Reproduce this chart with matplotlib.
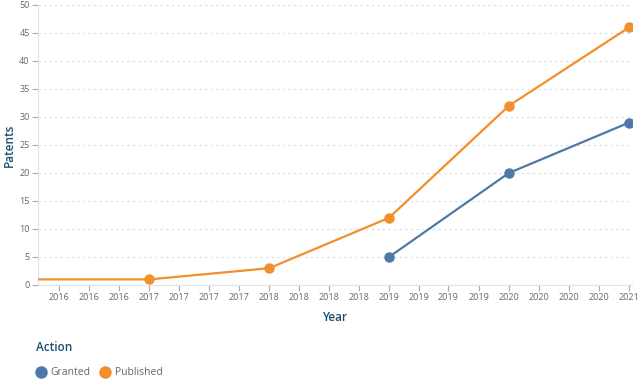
import datetime
import matplotlib
matplotlib.use('Agg')
import matplotlib.pyplot as plt
import matplotlib.dates as mdates
from matplotlib.lines import Line2D

# data
published_years = [2016, 2017, 2018, 2019, 2020, 2021]
published = [1, 1, 3, 12, 32, 46]
granted_years = [2019, 2020, 2021]
granted = [5, 20, 29]

blue = '#4e79a7'
orange = '#f28e2b'
title_col = '#1b4f72'
tick_col = '#666666'

plt.rcParams['font.family'] = ['Open Sans', 'DejaVu Sans']

fig = plt.figure(figsize=(6.4, 3.79), dpi=100)
ax = fig.add_axes([38 / 640, 1 - 285 / 379, (632 - 38) / 640, 280 / 379])

to_date = lambda ys: [datetime.date(y, 1, 1) for y in ys]
ax.plot(to_date(published_years), published, color=orange, lw=1.6,
        marker='o', ms=6.5, zorder=3)
ax.plot(to_date(granted_years), granted, color=blue, lw=1.6,
        marker='o', ms=6.5, zorder=3)

ax.set_xlim(datetime.date(2016, 1, 28), datetime.date(2021, 1, 10))
ax.set_ylim(0, 50)
ax.set_yticks(range(0, 51, 5))
ax.xaxis.set_major_locator(mdates.MonthLocator(bymonth=[1, 4, 7, 10]))
ax.xaxis.set_major_formatter(mdates.DateFormatter('%Y'))

ax.grid(axis='y', color='#d5dde6', linestyle=(0, (2, 3)), lw=0.8)
ax.set_axisbelow(True)
for s in ['top', 'right']:
    ax.spines[s].set_visible(False)
for s in ['left', 'bottom']:
    ax.spines[s].set_color('#dde3ea')
    ax.spines[s].set_linewidth(0.8)
ax.tick_params(axis='both', colors='#aaaaaa', labelcolor=tick_col,
               labelsize=6.5, length=4, width=0.8, pad=2)

ax.set_ylabel('Patents', color=title_col, fontsize=8.5, fontweight='semibold')
ax.yaxis.set_label_coords(-22 / 594, 0.5)
ax.set_xlabel('Year', color=title_col, fontsize=8.5, fontweight='semibold',
              labelpad=6)

handles = [Line2D([], [], ls='', marker='o', ms=8, color=blue),
           Line2D([], [], ls='', marker='o', ms=8, color=orange)]
leg = fig.legend(handles, ['Granted', 'Published'], title='Action',
                 loc='lower left', bbox_to_anchor=(30 / 640, -0.015), ncol=2,
                 frameon=False, fontsize=7.5, title_fontsize=8.5,
                 handletextpad=0.4, columnspacing=0.9, handlelength=1.0,
                 labelspacing=1.3, alignment='left', borderaxespad=0.2)
leg.get_title().set_color(title_col)
leg.get_title().set_fontweight('semibold')
for t in leg.get_texts():
    t.set_color(tick_col)

fig.savefig('out.png', dpi=100)
